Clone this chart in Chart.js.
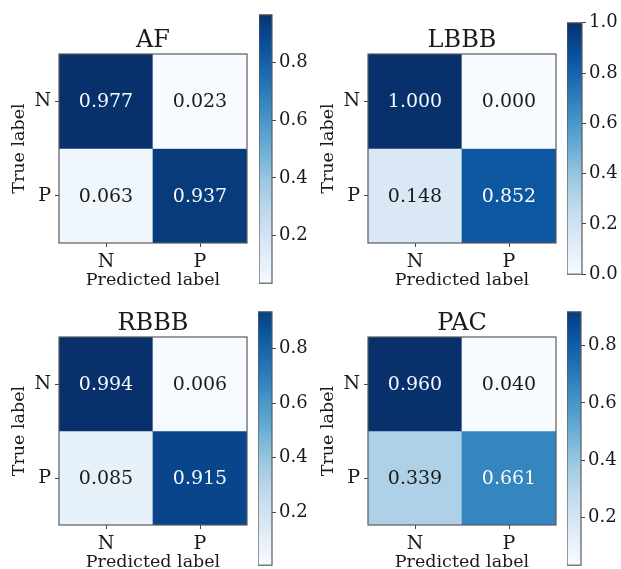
<!DOCTYPE html>
<html>
<head>
<meta charset="utf-8">
<script src="https://cdn.jsdelivr.net/npm/chart.js@4/dist/chart.umd.min.js"></script>
<style>
  html, body { margin: 0; padding: 0; background: #fff; }
  #page { position: relative; width: 621px; height: 569px; overflow: hidden; background: #fff; }
  canvas { position: absolute; }
</style>
</head>
<body>
<div id="page"></div>
<script>
// ---- data ----
const panelTitles = ['AF', 'LBBB', 'RBBB', 'PAC'];
const predictedLabels = ['N', 'P'];
const trueLabels = ['N', 'P'];

const afValues = [[0.977, 0.023], [0.063, 0.937]];
const lbbbValues = [[1.000, 0.000], [0.148, 0.852]];
const rbbbValues = [[0.994, 0.006], [0.085, 0.915]];
const pacValues = [[0.960, 0.040], [0.339, 0.661]];

// colorbar extents
const afColorbar = [0.036, 0.964];
const lbbbColorbar = [0, 1];
const rbbbColorbar = [0.006, 0.934];
const pacColorbar = [0.035, 0.917];
const colorbarTicks = [0, 0.2, 0.4, 0.6, 0.8, 1.0];

// ---- layout (page pixels) ----
const panels = [
  { title: panelTitles[0], values: afValues, cbar: afColorbar,
    box: { x: 59, y: 54, w: 188, h: 189 }, cb: { x: 259, y: 13, w: 13, h: 272 } },
  { title: panelTitles[1], values: lbbbValues, cbar: lbbbColorbar,
    box: { x: 368, y: 54, w: 188, h: 189 }, cb: { x: 567, y: 21, w: 15, h: 255 } },
  { title: panelTitles[2], values: rbbbValues, cbar: rbbbColorbar,
    box: { x: 59, y: 337, w: 188, h: 188 }, cb: { x: 258, y: 310, w: 14, h: 257 } },
  { title: panelTitles[3], values: pacValues, cbar: pacColorbar,
    box: { x: 368, y: 337, w: 188, h: 188 }, cb: { x: 567, y: 310, w: 14, h: 257 } },
];

const SERIF = 'DejaVu Serif';
const TEXT = '#1a1a1a';

// matplotlib "Blues"
const bluesStops = ['#f7fbff', '#deebf7', '#c6dbef', '#9ecae1', '#6baed6', '#4292c6', '#2171b5', '#08519c', '#08306b'];
function hexToRgb(h) {
  return [parseInt(h.slice(1, 3), 16), parseInt(h.slice(3, 5), 16), parseInt(h.slice(5, 7), 16)];
}
function blues(t) {
  t = Math.max(0, Math.min(1, t));
  const pos = t * (bluesStops.length - 1);
  const i = Math.min(Math.floor(pos), bluesStops.length - 2);
  const f = pos - i;
  const a = hexToRgb(bluesStops[i]), b = hexToRgb(bluesStops[i + 1]);
  const c = a.map((v, k) => Math.round(v + (b[k] - v) * f));
  return `rgb(${c[0]},${c[1]},${c[2]})`;
}

// frame round the chart area
const framePlugin = {
  id: 'frame',
  afterDraw(chart) {
    const { ctx, chartArea: a } = chart;
    ctx.save();
    ctx.strokeStyle = '#5a5a5a';
    ctx.lineWidth = 1.2;
    ctx.strokeRect(a.left, a.top, a.right - a.left, a.bottom - a.top);
    ctx.restore();
  }
};

// value text in each cell
const cellTextPlugin = {
  id: 'cellText',
  afterDatasetsDraw(chart) {
    const ctx = chart.ctx;
    ctx.save();
    ctx.font = `19px "${SERIF}"`;
    ctx.textAlign = 'center';
    ctx.textBaseline = 'middle';
    chart.data.datasets.forEach((ds, di) => {
      chart.getDatasetMeta(di).data.forEach((bar, ci) => {
        const v = ds.values[ci];
        ctx.fillStyle = v >= ds.thresh ? '#f7fbff' : TEXT;
        ctx.fillText(v.toFixed(3), bar.x, (bar.y + bar.base) / 2 + 1);
      });
    });
    ctx.restore();
  }
};

function addCanvas(left, top, width, height) {
  const c = document.createElement('canvas');
  c.width = width;
  c.height = height;
  c.style.left = left + 'px';
  c.style.top = top + 'px';
  c.style.width = width + 'px';
  c.style.height = height + 'px';
  document.getElementById('page').appendChild(c);
  return c;
}

function makeMatrix(p) {
  const AXW = 59, TOP = 54, BOT = 52;
  const flat = p.values.flat();
  const vmin = Math.min(...flat), vmax = Math.max(...flat);
  const thresh = (vmin + vmax) / 2;
  const nRows = trueLabels.length;
  const canvas = addCanvas(p.box.x - AXW, p.box.y - TOP, p.box.w + 2 * AXW, p.box.h + TOP + BOT);

  const datasets = trueLabels.map((lab, r) => ({
    label: lab,
    data: p.values[r].map(() => [nRows - 1 - r, nRows - r]),
    values: p.values[r],
    thresh: thresh,
    backgroundColor: p.values[r].map(v => blues((v - vmin) / (vmax - vmin))),
    borderWidth: 0,
    barPercentage: 1,
    categoryPercentage: 1,
    grouped: false,
  }));

  new Chart(canvas, {
    type: 'bar',
    data: { labels: predictedLabels, datasets: datasets },
    options: {
      responsive: false,
      animation: false,
      devicePixelRatio: 1,
      layout: { padding: 0 },
      plugins: {
        legend: { display: false },
        tooltip: { enabled: false },
        title: {
          display: true,
          text: p.title,
          color: TEXT,
          font: { family: SERIF, size: 24, weight: 'normal', lineHeight: 1.125 },
          padding: { top: 27, bottom: 0 },
        },
      },
      scales: {
        x: {
          type: 'category',
          offset: true,
          afterFit: s => { s.height = BOT; },
          grid: { display: true, offset: false, drawOnChartArea: false, drawTicks: true, tickLength: 4, color: '#444' },
          border: { display: false },
          ticks: { color: TEXT, padding: 4, font: { family: SERIF, size: 19 } },
          title: {
            display: true, text: 'Predicted label', color: TEXT,
            font: { family: SERIF, size: 17.5 }, padding: { top: 0, bottom: 4 },
          },
        },
        y: {
          type: 'linear',
          min: 0,
          max: nRows,
          afterFit: s => { s.width = AXW; },
          afterBuildTicks: s => { s.ticks = trueLabels.map((l, i) => ({ value: nRows - i - 0.5 })); },
          grid: { display: true, drawOnChartArea: false, drawTicks: true, tickLength: 4, color: '#444' },
          border: { display: false },
          ticks: {
            color: TEXT, padding: 4, font: { family: SERIF, size: 19 },
            callback: v => trueLabels[nRows - 1 - Math.floor(v)],
          },
          title: {
            display: true, text: 'True label', color: TEXT,
            font: { family: SERIF, size: 17.5 }, padding: { top: 9, bottom: 0 },
          },
        },
        // empty right axis so the title sits centred over the matrix
        yRight: {
          type: 'linear',
          position: 'right',
          afterFit: s => { s.width = AXW; },
          grid: { display: false },
          border: { display: false },
          ticks: { display: false },
        },
      },
    },
    plugins: [cellTextPlugin, framePlugin],
  });
}

function makeColorbar(p) {
  const AXW = 45, PAD = 12;
  const flat = p.values.flat();
  const vmin = Math.min(...flat), vmax = Math.max(...flat);
  const [lo, hi] = p.cbar;
  const canvas = addCanvas(p.cb.x, p.cb.y - PAD, p.cb.w + AXW, p.cb.h + 2 * PAD);

  new Chart(canvas, {
    type: 'bar',
    data: {
      labels: [''],
      datasets: [{
        data: [[lo, hi]],
        borderWidth: 0,
        barPercentage: 1,
        categoryPercentage: 1,
        backgroundColor: (c) => {
          const chart = c.chart;
          const y = chart.scales && chart.scales.y;
          if (!chart.chartArea || !y) return blues(0.5);
          const g = chart.ctx.createLinearGradient(0, y.getPixelForValue(lo), 0, y.getPixelForValue(hi));
          const n = 24;
          for (let k = 0; k <= n; k++) {
            const v = lo + (hi - lo) * k / n;
            g.addColorStop(k / n, blues((v - vmin) / (vmax - vmin)));
          }
          return g;
        },
      }],
    },
    options: {
      responsive: false,
      animation: false,
      devicePixelRatio: 1,
      layout: { padding: { left: 0, right: 0, top: PAD, bottom: PAD } },
      plugins: { legend: { display: false }, tooltip: { enabled: false } },
      scales: {
        x: { display: false, offset: true },
        y: {
          position: 'right',
          min: lo,
          max: hi,
          afterFit: s => { s.width = AXW; },
          afterBuildTicks: s => {
            s.ticks = colorbarTicks.filter(v => v >= lo - 1e-9 && v <= hi + 1e-9).map(v => ({ value: v }));
          },
          grid: { display: true, drawOnChartArea: false, drawTicks: true, tickLength: 4, color: '#444' },
          border: { display: false },
          ticks: { color: TEXT, padding: 3, font: { family: SERIF, size: 18 }, callback: v => v.toFixed(1) },
        },
      },
    },
    plugins: [framePlugin],
  });
}

panels.forEach(p => { makeMatrix(p); makeColorbar(p); });
</script>
</body>
</html>
